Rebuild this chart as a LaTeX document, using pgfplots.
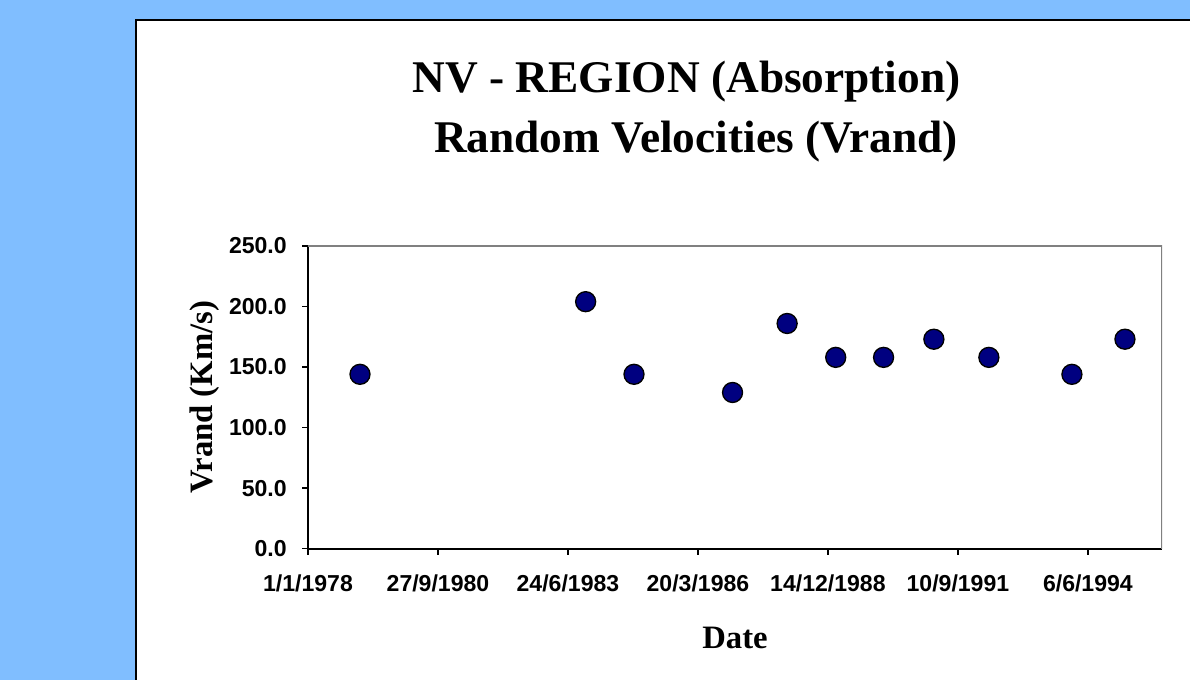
\documentclass[border=0pt]{standalone}
\usepackage{pgfplots}
\pgfplotsset{compat=1.18}
\usepackage{fontspec}
\setmainfont{Liberation Serif}
\newfontfamily\arialfont{Liberation Sans}
\definecolor{bgblue}{HTML}{80BEFF}
\definecolor{navy}{HTML}{000080}

\begin{document}
\begin{tikzpicture}[x=1pt,y=1pt]
% page background and white panel
\fill[bgblue] (0,0) rectangle (892.5,510);
\fill[white] (102,0) rectangle (892.5,495);
\draw[black, line width=1.5pt] (102,0) -- (102,495) -- (892.5,495);

\node[font=\bfseries\fontsize{34}{40}\selectfont, anchor=base] at (515,440.5) {NV - REGION (Absorption)};
\node[font=\bfseries\fontsize{34}{40}\selectfont, anchor=base] at (522,395.6) {Random Velocities (Vrand)};

\begin{axis}[
  at={(231pt,98.5pt)}, anchor=south west,
  scale only axis, width=640.5pt, height=227pt,
  xmin=0, xmax=6570, ymin=0, ymax=250,
  axis lines=left, axis line style={-, line width=1.5pt},
  tick align=outside, major tick length=4.5pt,
  tick style={black, line width=1pt},
  scaled ticks=false,
  xtick={0,1000,...,6000},
  xticklabels={1/1/1978,27/9/1980,24/6/1983,20/3/1986,14/12/1988,10/9/1991,6/6/1994},
  ytick={0,50,...,250},
  /pgf/number format/assume math mode=true,
  yticklabel style={/pgf/number format/fixed, /pgf/number format/fixed zerofill,
    /pgf/number format/precision=1, inner sep=0pt, xshift=-11.25pt},
  tick label style={font=\arialfont\bfseries\fontsize{17.3}{20}\selectfont},
  xticklabel style={inner sep=0pt, yshift=-14.7pt},
  xlabel={Date},
  xlabel style={at={(axis description cs:0.5,-0.329)}, anchor=base,
    font=\bfseries\fontsize{24.5}{28}\selectfont},
  ylabel={Vrand (Km/s)},
  ylabel style={at={(axis description cs:-0.1124,0.5)}, anchor=base,
    font=\bfseries\fontsize{24.5}{28}\selectfont},
]
\draw[gray, line width=1.5pt] (rel axis cs:0,1) -- (rel axis cs:1,1) -- (rel axis cs:1,0);
\addplot[only marks, mark=*, mark size=7.5pt, mark options={fill=navy, draw=black, line width=1pt}]
  coordinates {
  (400,144) (2136,204) (2508,144) (3266,129) (3686,186) (4060,158)
  (4428,158) (4815,173) (5238,158) (5877,144) (6285,173)
  };
\end{axis}
\pgfresetboundingbox
\useasboundingbox (0,0) rectangle (892.5,510);
\end{tikzpicture}
\end{document}
